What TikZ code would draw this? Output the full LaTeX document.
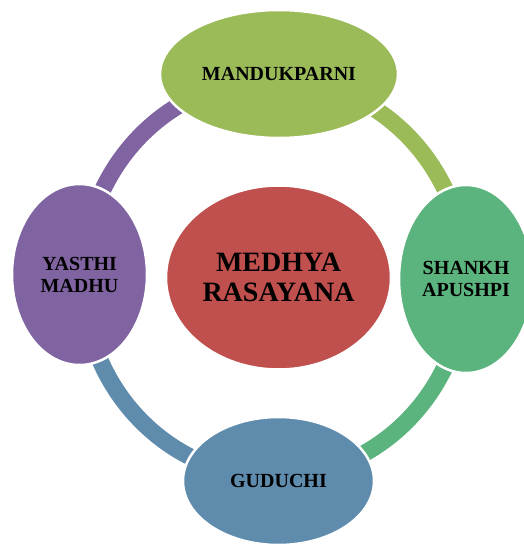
\documentclass[tikz,border=0pt]{standalone}
\usepackage{fontspec}
\setmainfont{Liberation Serif}
\usetikzlibrary{shapes.geometric}
\definecolor{cCenter}{HTML}{C0504D}
\definecolor{cTop}{HTML}{9BBB59}
\definecolor{cRight}{HTML}{5BB47D}
\definecolor{cBottom}{HTML}{5F8CAD}
\definecolor{cLeft}{HTML}{8064A2}
\tikzset{
  herb/.style={ellipse, draw=white, line width=2.5pt, inner sep=0pt, align=center,
    font=\bfseries\fontsize{20}{22}\selectfont, text=black},
  band/.style={line width=17pt},
}
\begin{document}
\begin{tikzpicture}[x=1pt,y=-1pt]
\useasboundingbox (0,0) rectangle (524,544);
\clip (0,0) rectangle (524,544);
% ring segments
\coordinate (rc) at (274,278);
\draw[band, cLeft]   ([shift={(180:191 and 199)}]rc) arc[start angle=180, end angle=270, x radius=191, y radius=199];
\draw[band, cTop]    ([shift={(270:191 and 199)}]rc) arc[start angle=270, end angle=360, x radius=191, y radius=199];
\draw[band, cRight]  ([shift={(0:191 and 199)}]rc) arc[start angle=0, end angle=90, x radius=191, y radius=199];
\draw[band, cBottom] ([shift={(90:191 and 199)}]rc) arc[start angle=90, end angle=180, x radius=191, y radius=199];
% nodes
\node[herb, fill=cTop, minimum width=238pt, minimum height=128pt] (top) at (279,74) {MANDUKPARNI};
\node[herb, fill=cRight, minimum width=134pt, minimum height=188pt] (right) at (466,279) {SHANKH\\APUSHPI};
\node[herb, fill=cBottom, minimum width=191pt, minimum height=128pt] (bottom) at (278.5,481) {GUDUCHI};
\node[herb, fill=cLeft, minimum width=135pt, minimum height=181pt] (left) at (79.5,274.5) {YASTHI\\MADHU};
\node[herb, fill=cCenter, minimum width=225pt, minimum height=184pt,
  font=\bfseries\fontsize{28}{30}\selectfont] (center) at (278.5,277.5) {MEDHYA\\RASAYANA};
\end{tikzpicture}
\end{document}
